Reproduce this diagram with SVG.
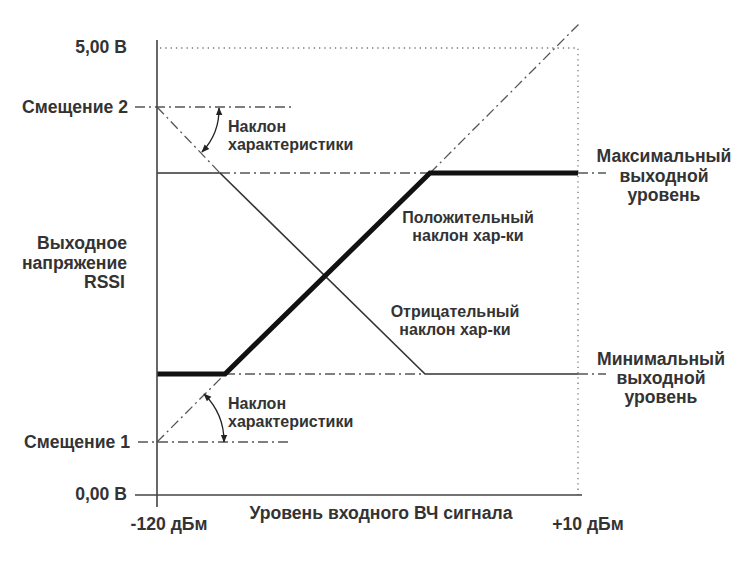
<svg xmlns="http://www.w3.org/2000/svg" width="740" height="563" viewBox="0 0 740 563">
<style>
text{font-family:"Liberation Sans",Arial,sans-serif;font-weight:bold;fill:#333}
.big{font-size:17.6px}
.sm{font-size:16px}
.axis{stroke:#444;stroke-width:1.6;fill:none}
.dd{stroke:#555;stroke-width:1.3;fill:none;stroke-dasharray:10 4 2 4}
.dot{stroke:#777;stroke-width:1.3;fill:none;stroke-dasharray:1.3 4}
.thin{stroke:#333;stroke-width:1.6;fill:none}
.thick{stroke:#111;stroke-width:5;fill:none}
.arc{stroke:#222;stroke-width:1.3;fill:none;marker-start:url(#ah);marker-end:url(#ah)}
</style>
<defs>
<marker id="ah" viewBox="0 0 10 10" refX="9" refY="5" markerWidth="8" markerHeight="8" markerUnits="userSpaceOnUse" orient="auto-start-reverse">
<path d="M0,1 L10,5 L0,9 z" fill="#222"/>
</marker>
</defs>
<rect width="740" height="563" fill="#fff"/>
<g id="connectors">
<path class="dot" d="M160,48 H578 V495"/>
<path class="dd" d="M135,107 H292"/>
<path class="dd" d="M138,442 H292"/>
<path class="dd" d="M220,173 H430"/>
<path class="dd" d="M578,173 H606"/>
<path class="dd" d="M225,374 H425"/>
<path class="dd" d="M578,374 H606"/>
<path class="dd" d="M157,442 L225,374"/>
<path class="dd" d="M430,173 L579,24"/>
<path class="dd" d="M157,107 L220,173"/>
<path class="thin" d="M157,173 H220 L425,374 H578"/>
<path class="thick" d="M157,374 H225 L430,173 H578"/>
<path class="axis" d="M157,40 V507 M135,495 H582"/>
<path class="arc" d="M219,108 A62,62 0 0 1 202,152"/>
<path class="arc" d="M204,394 A67,67 0 0 1 224,442"/>
</g>
<g id="y-labels">
<text class="big" x="127" y="53" text-anchor="end">5,00 В</text>
<text class="big" x="128" y="113" text-anchor="end">Смещение 2</text>
<text class="big" x="127" y="249" text-anchor="end">Выходное</text>
<text class="big" x="127" y="269" text-anchor="end">напряжение</text>
<text class="big" x="125" y="288" text-anchor="end">RSSI</text>
<text class="big" x="130" y="448" text-anchor="end">Смещение 1</text>
<text class="big" x="127" y="500" text-anchor="end">0,00 В</text>
</g>
<g id="slope-upper">
<text class="sm" x="228" y="132">Наклон</text>
<text class="sm" x="228" y="150">характеристики</text>
</g>
<g id="slope-lower">
<text class="sm" x="228" y="409">Наклон</text>
<text class="sm" x="228" y="427">характеристики</text>
</g>
<g id="max-level">
<text class="big" x="664" y="162" text-anchor="middle">Максимальный</text>
<text class="big" x="664" y="182" text-anchor="middle">выходной</text>
<text class="big" x="664" y="201" text-anchor="middle">уровень</text>
</g>
<g id="min-level">
<text class="big" x="661" y="365" text-anchor="middle">Минимальный</text>
<text class="big" x="661" y="384" text-anchor="middle">выходной</text>
<text class="big" x="661" y="403" text-anchor="middle">уровень</text>
</g>
<g id="pos-slope">
<text class="sm" x="468" y="223" text-anchor="middle">Положительный</text>
<text class="sm" x="468" y="241" text-anchor="middle">наклон хар-ки</text>
</g>
<g id="neg-slope">
<text class="sm" x="455" y="317" text-anchor="middle">Отрицательный</text>
<text class="sm" x="455" y="335" text-anchor="middle">наклон хар-ки</text>
</g>
<g id="x-labels">
<text class="big" x="169" y="530" text-anchor="middle">-120 дБм</text>
<text class="big" x="381" y="519" text-anchor="middle">Уровень входного ВЧ сигнала</text>
<text class="big" x="588" y="530" text-anchor="middle">+10 дБм</text>
</g>
</svg>
